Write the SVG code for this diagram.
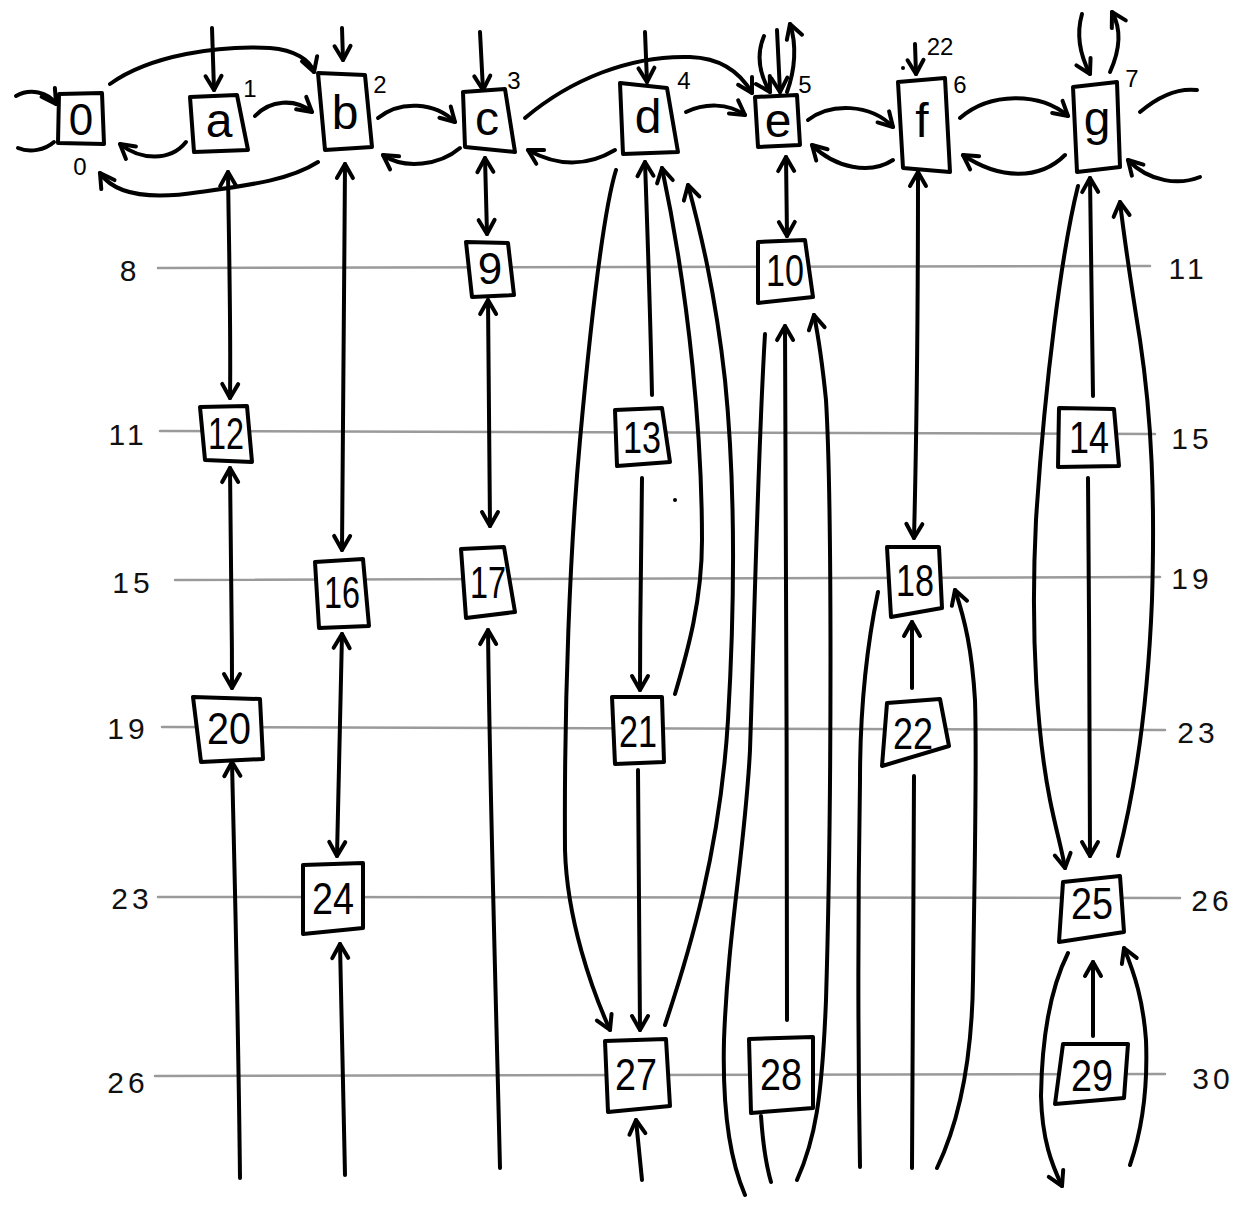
<svg xmlns="http://www.w3.org/2000/svg" width="1260" height="1212" viewBox="0 0 1260 1212">
<style>
.bg{fill:#fff}
.gl line{stroke:#9a9a9a;stroke-width:2.5;stroke-linecap:round}
.sl{font-family:"Liberation Sans",sans-serif;font-size:30px;fill:#111;text-anchor:middle;dominant-baseline:central;letter-spacing:4px}
.cn path{fill:none;stroke:#000;stroke-width:4;stroke-linecap:round;stroke-linejoin:round}
.nd path{fill:#fff;stroke:#000;stroke-width:4;stroke-linejoin:round}
.nd text{font-family:"Liberation Sans",sans-serif;font-size:44px;fill:#000;text-anchor:middle;dominant-baseline:central}
.nd text.lt{font-size:48px}
.ix{font-family:"Liberation Sans",sans-serif;font-size:24px;fill:#000;text-anchor:middle;dominant-baseline:central}
</style>
<defs>
<marker id="ah" viewBox="0 0 22 22" refX="20" refY="11" markerWidth="22" markerHeight="22" markerUnits="userSpaceOnUse" orient="auto-start-reverse" overflow="visible">
<path d="M6,3 L20,11 L6,19" fill="none" stroke="#000" stroke-width="4" stroke-linecap="round" stroke-linejoin="round"/>
</marker>
</defs>
<rect class="bg" x="0" y="0" width="1260" height="1212"/>

<g class="gl">
<line x1="158" y1="268" x2="1150" y2="266"/>
<line x1="160" y1="431" x2="1155" y2="434"/>
<line x1="175" y1="580" x2="1160" y2="577"/>
<line x1="162" y1="727" x2="1165" y2="730"/>
<line x1="158" y1="897" x2="1180" y2="898"/>
<line x1="155" y1="1076" x2="1165" y2="1074"/>
</g>

<g id="side-labels">
<text class="sl" x="130" y="270">8</text>
<text class="sl" x="1188" y="268">11</text>
<text class="sl" x="128" y="434">11</text>
<text class="sl" x="1192" y="438">15</text>
<text class="sl" x="133" y="582">15</text>
<text class="sl" x="1192" y="578">19</text>
<text class="sl" x="128" y="728">19</text>
<text class="sl" x="1198" y="732">23</text>
<text class="sl" x="132" y="898">23</text>
<text class="sl" x="1212" y="900">26</text>
<text class="sl" x="128" y="1082">26</text>
<text class="sl" x="1213" y="1078">30</text>
</g>

<g id="connectors" class="cn">
<path d="M16,96 C30,88 48,92 56,104" marker-end="url(#ah)"/>
<path d="M18,148 C30,153 45,150 54,142"/>
<path d="M110,84 C150,55 220,45 270,48 C295,50 310,60 314,72" marker-end="url(#ah)"/>
<path d="M186,142 C170,162 140,160 120,144" marker-end="url(#ah)"/>
<path d="M318,162 C290,180 250,185 200,192 C150,200 115,195 100,173" marker-end="url(#ah)"/>
<path d="M255,116 C270,100 295,98 312,112" marker-end="url(#ah)"/>
<path d="M212,28 L214,90" marker-end="url(#ah)"/>
<path d="M342,28 L343,60" marker-end="url(#ah)"/>
<path d="M378,118 C400,100 435,102 455,122" marker-end="url(#ah)"/>
<path d="M460,148 C440,165 405,170 383,155" marker-end="url(#ah)"/>
<path d="M480,32 L483,90" marker-end="url(#ah)"/>
<path d="M525,118 C570,80 630,55 690,57 C720,58 740,72 752,93" marker-end="url(#ah)"/>
<path d="M615,150 C590,165 560,168 528,150" marker-end="url(#ah)"/>
<path d="M645,32 L647,82" marker-end="url(#ah)"/>
<path d="M686,112 C705,103 728,103 745,115" marker-end="url(#ah)"/>
<path d="M764,36 C756,55 760,75 770,92" marker-end="url(#ah)"/>
<path d="M777,30 L780,92" marker-end="url(#ah)"/>
<path d="M787,92 C795,70 797,45 790,24" marker-end="url(#ah)"/>
<path d="M808,120 C830,103 870,103 893,127" marker-end="url(#ah)"/>
<path d="M893,160 C870,175 835,168 812,145" marker-end="url(#ah)"/>
<path d="M915,44 L916,74" marker-end="url(#ah)"/>
<path d="M960,118 C990,92 1040,92 1068,116" marker-end="url(#ah)"/>
<path d="M1065,155 C1040,180 1000,180 963,155" marker-end="url(#ah)"/>
<path d="M1082,14 C1076,35 1080,55 1090,74" marker-end="url(#ah)"/>
<path d="M1110,72 C1120,50 1122,30 1112,12" marker-end="url(#ah)"/>
<path d="M1200,177 C1180,185 1150,183 1128,160" marker-end="url(#ah)"/>
<path d="M1140,112 C1160,95 1180,88 1197,90"/>

<path d="M228,172 C229,250 231,330 230,398" marker-start="url(#ah)" marker-end="url(#ah)"/>
<path d="M230,468 C231,560 232,620 232,688" marker-start="url(#ah)" marker-end="url(#ah)"/>
<path d="M240,1178 C238,1000 234,850 232,762" marker-end="url(#ah)"/>
<path d="M345,164 C344,300 343,450 342,550" marker-start="url(#ah)" marker-end="url(#ah)"/>
<path d="M342,634 C340,720 338,800 337,856" marker-start="url(#ah)" marker-end="url(#ah)"/>
<path d="M345,1175 C343,1080 341,1000 340,944" marker-end="url(#ah)"/>
<path d="M485,158 L487,234" marker-start="url(#ah)" marker-end="url(#ah)"/>
<path d="M488,300 C489,400 490,470 490,526" marker-start="url(#ah)" marker-end="url(#ah)"/>
<path d="M500,1168 C496,1000 490,800 488,630" marker-end="url(#ah)"/>
<path d="M652,395 C650,300 647,220 645,162" marker-end="url(#ah)"/>
<path d="M642,478 C641,560 640,620 640,690" marker-end="url(#ah)"/>
<path d="M638,770 C639,880 640,960 640,1030" marker-end="url(#ah)"/>
<path d="M642,1180 L636,1120" marker-end="url(#ah)"/>
<path d="M616,170 C602,215 590,330 580,440 C570,550 564,700 565,850 C567,920 592,990 610,1030" marker-end="url(#ah)"/>
<path d="M675,694 C688,650 702,600 702,540 C702,440 690,300 662,168" marker-end="url(#ah)"/>
<path d="M665,1025 C690,950 720,850 728,720 C735,600 735,480 725,380 C715,290 700,230 688,185" marker-end="url(#ah)"/>
<path d="M786,157 L787,236" marker-start="url(#ah)" marker-end="url(#ah)"/>
<path d="M765,334 C758,450 755,600 750,750 C745,850 728,930 724,1040 C722,1120 732,1165 745,1195"/>
<path d="M787,1020 C787,800 786,500 785,326" marker-end="url(#ah)"/>
<path d="M797,1180 C815,1140 822,1100 826,1000 C832,800 832,500 826,400 C822,360 818,335 814,315" marker-end="url(#ah)"/>
<path d="M761,1116 C763,1145 766,1165 771,1182"/>
<path d="M918,172 C918,300 917,420 914,538" marker-start="url(#ah)" marker-end="url(#ah)"/>
<path d="M878,592 C868,640 860,700 860,780 C858,900 858,1050 860,1167"/>
<path d="M912,688 L912,622" marker-end="url(#ah)"/>
<path d="M914,776 C914,900 912,1050 912,1168"/>
<path d="M937,1168 C960,1120 972,1060 973,980 C975,850 977,760 975,700 C972,650 965,620 955,590" marker-end="url(#ah)"/>
<path d="M1093,396 C1092,320 1091,250 1090,178" marker-end="url(#ah)"/>
<path d="M1088,478 C1089,600 1090,750 1090,856" marker-end="url(#ah)"/>
<path d="M1078,186 C1062,250 1045,380 1036,520 C1030,640 1038,740 1050,800 C1056,830 1062,850 1065,868" marker-end="url(#ah)"/>
<path d="M1118,856 C1135,790 1148,700 1152,600 C1155,500 1152,420 1140,340 C1132,290 1125,245 1120,202" marker-end="url(#ah)"/>
<path d="M1068,953 C1052,985 1042,1030 1041,1096 C1042,1140 1052,1165 1062,1186" marker-end="url(#ah)"/>
<path d="M1093,1036 L1093,962" marker-end="url(#ah)"/>
<path d="M1130,1165 C1142,1130 1148,1090 1146,1040 C1143,1000 1135,975 1124,948" marker-end="url(#ah)"/>
</g>

<g id="nodes" class="nd">
<g id="n-0"><path d="M59,94 L102,93 L104,144 L58,143 Z"/><text x="81" y="119">0</text></g>
<g id="n-a"><path d="M190,97 L237,95 L248,150 L194,152 Z"/><text class="lt" x="219" y="120">a</text></g>
<g id="n-b"><path d="M318,73 L365,75 L372,147 L325,150 Z"/><text class="lt" x="345" y="112">b</text></g>
<g id="n-c"><path d="M463,92 L505,89 L515,152 L465,147 Z"/><text class="lt" x="487" y="118">c</text></g>
<g id="n-d"><path d="M620,83 L667,88 L678,152 L623,154 Z"/><text class="lt" x="648" y="116">d</text></g>
<g id="n-e"><path d="M755,97 L797,95 L800,145 L758,147 Z"/><text class="lt" x="778" y="120">e</text></g>
<g id="n-f"><path d="M898,82 L945,78 L950,172 L903,168 Z"/><text class="lt" x="922" y="120">f</text></g>
<g id="n-g"><path d="M1073,87 L1117,82 L1120,167 L1077,172 Z"/><text class="lt" x="1097" y="118">g</text></g>
<g id="n-9"><path d="M466,242 L508,243 L514,295 L472,297 Z"/><text x="490" y="268">9</text></g>
<g id="n-10"><path d="M758,242 L805,240 L813,297 L758,303 Z"/><text x="785" y="270" textLength="38" lengthAdjust="spacingAndGlyphs">10</text></g>
<g id="n-12"><path d="M200,407 L247,406 L252,462 L205,460 Z"/><text x="226" y="433" textLength="36" lengthAdjust="spacingAndGlyphs">12</text></g>
<g id="n-13"><path d="M615,410 L662,408 L670,462 L617,466 Z"/><text x="642" y="437" textLength="38" lengthAdjust="spacingAndGlyphs">13</text></g>
<g id="n-14"><path d="M1059,408 L1114,409 L1119,466 L1058,467 Z"/><text x="1089" y="437" textLength="40" lengthAdjust="spacingAndGlyphs">14</text></g>
<g id="n-16"><path d="M315,562 L363,559 L369,626 L319,628 Z"/><text x="342" y="592" textLength="36" lengthAdjust="spacingAndGlyphs">16</text></g>
<g id="n-17"><path d="M461,549 L504,547 L515,612 L466,618 Z"/><text x="488" y="582" textLength="36" lengthAdjust="spacingAndGlyphs">17</text></g>
<g id="n-18"><path d="M887,547 L939,547 L942,608 L891,617 Z"/><text x="915" y="580" textLength="38" lengthAdjust="spacingAndGlyphs">18</text></g>
<g id="n-20"><path d="M193,697 L260,699 L263,759 L201,762 Z"/><text x="229" y="728" textLength="44" lengthAdjust="spacingAndGlyphs">20</text></g>
<g id="n-21"><path d="M612,697 L662,697 L664,762 L615,764 Z"/><text x="638" y="731" textLength="38" lengthAdjust="spacingAndGlyphs">21</text></g>
<g id="n-22"><path d="M887,703 L940,699 L949,746 L882,766 Z"/><text x="913" y="733" textLength="40" lengthAdjust="spacingAndGlyphs">22</text></g>
<g id="n-24"><path d="M303,865 L363,863 L363,928 L303,934 Z"/><text x="333" y="898" textLength="42" lengthAdjust="spacingAndGlyphs">24</text></g>
<g id="n-25"><path d="M1063,882 L1120,876 L1124,932 L1059,942 Z"/><text x="1092" y="903" textLength="42" lengthAdjust="spacingAndGlyphs">25</text></g>
<g id="n-27"><path d="M605,1041 L666,1039 L670,1106 L608,1112 Z"/><text x="636" y="1074" textLength="42" lengthAdjust="spacingAndGlyphs">27</text></g>
<g id="n-28"><path d="M749,1039 L813,1037 L813,1108 L751,1113 Z"/><text x="781" y="1074" textLength="42" lengthAdjust="spacingAndGlyphs">28</text></g>
<g id="n-29"><path d="M1063,1044 L1128,1044 L1124,1098 L1055,1104 Z"/><text x="1092" y="1075" textLength="42" lengthAdjust="spacingAndGlyphs">29</text></g>
</g>

<g id="index-labels">
<text class="ix" x="80" y="166">0</text>
<text class="ix" x="250" y="88">1</text>
<text class="ix" x="380" y="84">2</text>
<text class="ix" x="514" y="80">3</text>
<text class="ix" x="684" y="80">4</text>
<text class="ix" x="805" y="84">5</text>
<text class="ix" x="960" y="84">6</text>
<text class="ix" x="940" y="46">22</text>
<text class="ix" x="1132" y="78">7</text>
</g>
<circle cx="675" cy="500" r="2" fill="#000"/>
<circle cx="903" cy="68" r="2" fill="#000"/>
</svg>
